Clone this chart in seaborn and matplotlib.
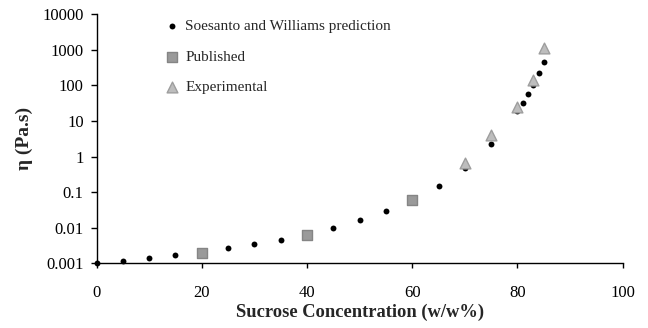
import numpy as np
import pandas as pd
import matplotlib
matplotlib.use("Agg")
import matplotlib.pyplot as plt
import seaborn as sns
from matplotlib.ticker import FixedLocator, FuncFormatter, NullLocator

# ---- data ----
pred_conc = [0, 5, 10, 15, 20, 25, 30, 35, 40, 45, 50, 55, 60, 65, 70, 75, 80, 81, 82, 83, 84, 85]
pred_visc = [0.001, 0.00118, 0.00141, 0.00168, 0.0020, 0.00263, 0.00347, 0.00452, 0.0062,
             0.0100, 0.0164, 0.030, 0.058, 0.151, 0.47, 2.19, 19, 32, 57, 105, 218, 457]
pub_conc = [20, 40, 60]
pub_visc = [0.0020, 0.0062, 0.060]
exp_conc = [70, 75, 80, 83, 85]
exp_visc = [0.67, 4.0, 24, 141, 1140]

x_ticks = [0, 20, 40, 60, 80, 100]
y_ticks = [0.001, 0.01, 0.1, 1, 10, 100, 1000, 10000]
y_tick_labels = ["0.001", "0.01", "0.1", "1", "10", "100", "1000", "10000"]

sns.set_style("ticks")
plt.rcParams["font.family"] = ["Liberation Serif", "DejaVu Serif"]

fig = plt.figure(figsize=(6.48, 3.28), dpi=100)
ax = fig.add_axes([0.149, 0.197, 0.812, 0.760])

pred_df = pd.DataFrame({"c": pred_conc, "v": pred_visc})
pub_df = pd.DataFrame({"c": pub_conc, "v": pub_visc})
exp_df = pd.DataFrame({"c": exp_conc, "v": exp_visc})

sns.scatterplot(data=pred_df, x="c", y="v", ax=ax, color="black", marker="o", s=18,
                edgecolor="black", linewidth=0, label="Soesanto and Williams prediction",
                clip_on=False, zorder=3)
sns.scatterplot(data=pub_df, x="c", y="v", ax=ax, color="#9a9a9a", marker="s", s=55,
                edgecolor="#858585", linewidth=1.0, label="Published", clip_on=False, zorder=4)
sns.scatterplot(data=exp_df, x="c", y="v", ax=ax, color="#bdbdbd", marker="^", s=60,
                edgecolor="#9e9e9e", linewidth=1.0, label="Experimental", clip_on=False, zorder=4)

ax.set_yscale("log")
ax.set_xlim(0, 100)
ax.set_ylim(0.001, 10000)
ax.xaxis.set_major_locator(FixedLocator(x_ticks))
ax.yaxis.set_major_locator(FixedLocator(y_ticks))
ax.yaxis.set_major_formatter(FuncFormatter(lambda v, p: y_tick_labels[y_ticks.index(min(y_ticks, key=lambda t: abs(np.log10(t) - np.log10(v))))]))
ax.yaxis.set_minor_locator(NullLocator())
ax.xaxis.set_minor_locator(NullLocator())

sns.despine(ax=ax)
for sp in ["left", "bottom"]:
    ax.spines[sp].set_linewidth(1.0)
    ax.spines[sp].set_color("black")

ax.tick_params(axis="y", direction="out", length=4.3, width=1.0, pad=5, labelsize=12, colors="black")
ax.tick_params(axis="x", direction="out", length=3.3, width=1.0, pad=12, labelsize=12, colors="black")

ax.set_xlabel("Sucrose Concentration (w/w%)", fontsize=13.3, fontweight="bold", labelpad=2)
ax.set_ylabel("η (Pa.s)", fontsize=14, fontweight="bold", labelpad=7)

leg = ax.legend(loc="upper left", bbox_to_anchor=(0.102, 1.034), frameon=False, fontsize=11,
                handlelength=1.0, handletextpad=0.4, labelspacing=1.1, borderpad=0.4)

fig.savefig("out.png", dpi=100)
